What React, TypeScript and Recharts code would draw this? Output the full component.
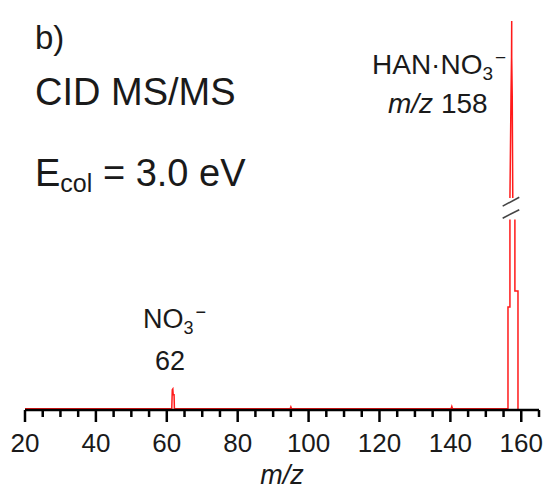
import { LineChart, Line, XAxis, YAxis, ReferenceLine } from "recharts";

// m/z positions of the trace (repeated x values draw the vertical peak edges)
const mzValues = [
  20, 61.4, 61.55, 61.7, 61.8, 62.05, 62.15, 94.8, 95, 95.2, 140.2, 140.4,
  140.6, 156.25, 156.25, 156.8, 156.8, 156.8, 156.8, 157.1, 157.25, 157.3,
  157.3, 157.45, 157.6, 158.2, 158.2, 158.2, 159.07, 159.07,
];

// relative intensity, null = gap at the axis break
const intensities = [
  0.3, 0.3, 5.2, 5.4, 3.9, 3.9, 0.3, 0.3, 0.8, 0.3, 0.3, 0.9, 0.3, 0.3, 26.5,
  26.5, 49, null, 54.5, 80.5, 90.8, 100, 90.8, 80.5, 54.5, null, 49, 30.6,
  30.6, 0,
];

const axisTicks = [
  20, 25, 30, 35, 40, 45, 50, 55, 60, 65, 70, 75, 80, 85, 90, 95, 100, 105,
  110, 115, 120, 125, 130, 135, 140, 145, 150, 155, 160, 165,
];
const majorTicks = [20, 40, 60, 80, 100, 120, 140, 160];

// axis-break slashes, in data units
const breakMarks = [
  [{ x: 154.75, y: 52.4 }, { x: 159.43, y: 54.7 }],
  [{ x: 154.75, y: 49.3 }, { x: 159.43, y: 51.5 }],
];

const data = mzValues.map((mz, i) => ({ mz, intensity: intensities[i] }));

const font = "Arial, 'Liberation Sans', sans-serif";
const ink = "#1a1a1a";

function AxisTick(props: any) {
  const { x, y, payload } = props;
  const major = majorTicks.includes(payload.value);
  return (
    <g>
      <line
        x1={x}
        x2={x}
        y1={y}
        y2={y + (major ? 12 : 7)}
        stroke="#000"
        strokeWidth={2.5}
      />
      {major && (
        <text
          x={x}
          y={y + 42}
          textAnchor="middle"
          fontSize={26}
          fontFamily={font}
          fill={ink}
        >
          {payload.value}
        </text>
      )}
    </g>
  );
}

export default function App() {
  return (
    <div
      style={{
        position: "absolute",
        left: 0,
        top: 0,
        width: 546,
        height: 493,
        background: "#fff",
      }}
    >
      <LineChart
        width={546}
        height={493}
        data={data}
        margin={{ top: 21, right: 7, left: 25, bottom: 0 }}
      >
        <XAxis
          dataKey="mz"
          type="number"
          domain={[20, 165]}
          ticks={axisTicks}
          interval={0}
          allowDataOverflow
          height={83}
          tickSize={0}
          tickMargin={0}
          tick={<AxisTick />}
          axisLine={{ stroke: "#000", strokeWidth: 2.5 }}
        />
        <YAxis hide domain={[0, 100]} allowDataOverflow />
        {breakMarks.map((seg, i) => (
          <ReferenceLine
            key={i}
            segment={seg}
            stroke="#444"
            strokeWidth={1.6}
            ifOverflow="visible"
          />
        ))}
        <Line
          dataKey="intensity"
          type="linear"
          stroke="#ff1a1a"
          strokeWidth={1.5}
          dot={false}
          connectNulls={false}
          isAnimationActive={false}
        />
      </LineChart>

      <svg
        width={546}
        height={493}
        style={{ position: "absolute", left: 0, top: 0, pointerEvents: "none" }}
        fontFamily={font}
        fill={ink}
      >
        <text x={35} y={49} fontSize={33}>
          b)
        </text>
        <text x={35} y={105} fontSize={38}>
          CID MS/MS
        </text>
        <text x={35} y={186} fontSize={38}>
          E
          <tspan fontSize={25} dy={6}>
            col
          </tspan>
          <tspan dy={-6}> = 3.0 eV</tspan>
        </text>

        <text x={372} y={74} fontSize={28}>
          HAN·NO
          <tspan fontSize={19} dy={6}>
            3
          </tspan>
          <tspan fontSize={19} dy={-16} dx={2}>
            −
          </tspan>
        </text>
        <text x={388} y={113} fontSize={28}>
          <tspan fontStyle="italic">m/z</tspan> 158
        </text>

        <text x={143} y={328} fontSize={27}>
          NO
          <tspan fontSize={18} dy={6}>
            3
          </tspan>
          <tspan fontSize={18} dy={-16} dx={2}>
            −
          </tspan>
        </text>
        <text x={170} y={370} fontSize={27} textAnchor="middle">
          62
        </text>

        <text
          x={282}
          y={484}
          fontSize={27}
          fontStyle="italic"
          textAnchor="middle"
        >
          m/z
        </text>
      </svg>
    </div>
  );
}
